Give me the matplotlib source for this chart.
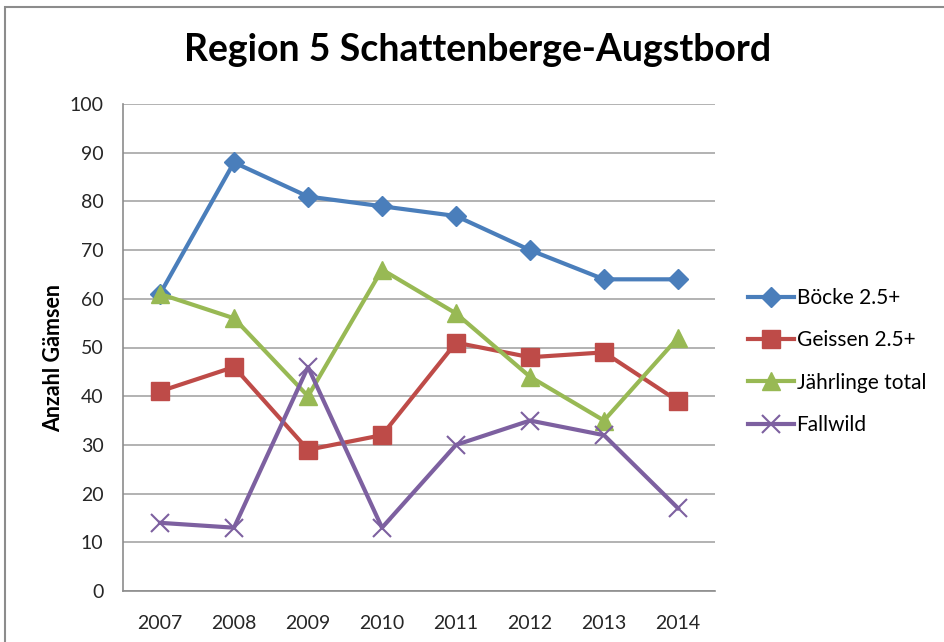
import matplotlib
matplotlib.use("Agg")
import matplotlib.pyplot as plt
from matplotlib.patches import Rectangle

# data
years = ['2007', '2008', '2009', '2010', '2011', '2012', '2013', '2014']
boecke = [61, 88, 81, 79, 77, 70, 64, 64]
geissen = [41, 46, 29, 32, 51, 48, 49, 39]
jaehrlinge = [61, 56, 40, 66, 57, 44, 35, 52]
fallwild = [14, 13, 46, 13, 30, 35, 32, 17]
y_ticks = [0, 10, 20, 30, 40, 50, 60, 70, 80, 90, 100]

plt.rcParams['font.family'] = ['Lato', 'DejaVu Sans']

fig = plt.figure(figsize=(9.44, 6.42), dpi=100)
ax = fig.add_axes([123/944, 1 - 591/642, (715-123)/944, (591-104)/642])

# chart area border (runs off the picture at right and bottom)
fig.patches.append(Rectangle((5/944, -0.05), 1.1, 1 - 7/642 + 0.05, transform=fig.transFigure,
                             fill=False, edgecolor='#8c8c8c', linewidth=1.5, clip_on=False))

x = list(range(len(years)))
ax.plot(x, boecke, color='#4A7EBB', lw=3, marker='D', ms=10, label='Böcke 2.5+')
ax.plot(x, geissen, color='#BE4B48', lw=3, marker='s', ms=13, label='Geissen 2.5+')
ax.plot(x, jaehrlinge, color='#98B954', lw=3, marker='^', ms=13, label='Jährlinge total')
ax.plot(x, fallwild, color='#7D60A0', lw=3, marker='x', ms=13, mew=1.5, label='Fallwild')

ax.set_xlim(-0.5, len(years) - 0.5)
ax.set_ylim(0, 100)
ax.set_yticks(y_ticks)
ax.set_xticks(x)
ax.set_xticklabels(years)
ax.tick_params(axis='both', labelsize=14, length=0, colors='#262626')
ax.tick_params(axis='x', pad=17)
ax.tick_params(axis='y', pad=14)
ax.yaxis.grid(True, color='#a6a6a6', lw=1.2)
ax.set_axisbelow(True)
for s in ['top', 'right']:
    ax.spines[s].set_visible(False)
for s in ['left', 'bottom']:
    ax.spines[s].set_color('#8c8c8c')
    ax.spines[s].set_linewidth(1.2)

ax.set_ylabel('Anzahl Gämsen', fontsize=15.5, fontweight='bold')
ax.yaxis.set_label_coords(-(123 - 64) / 592, (591 - 358) / 487)
fig.text(478/944, 1 - 50/642, 'Region 5 Schattenberge-Augstbord', ha='center', va='center',
         fontsize=27, fontweight='bold')

ax.legend(loc='center left', bbox_to_anchor=(1.055, 0.471), frameon=False, fontsize=15,
          handlelength=2.25, handletextpad=0.1, labelspacing=1.07, borderaxespad=0,
          borderpad=0)

fig.savefig('out.png', dpi=100)
